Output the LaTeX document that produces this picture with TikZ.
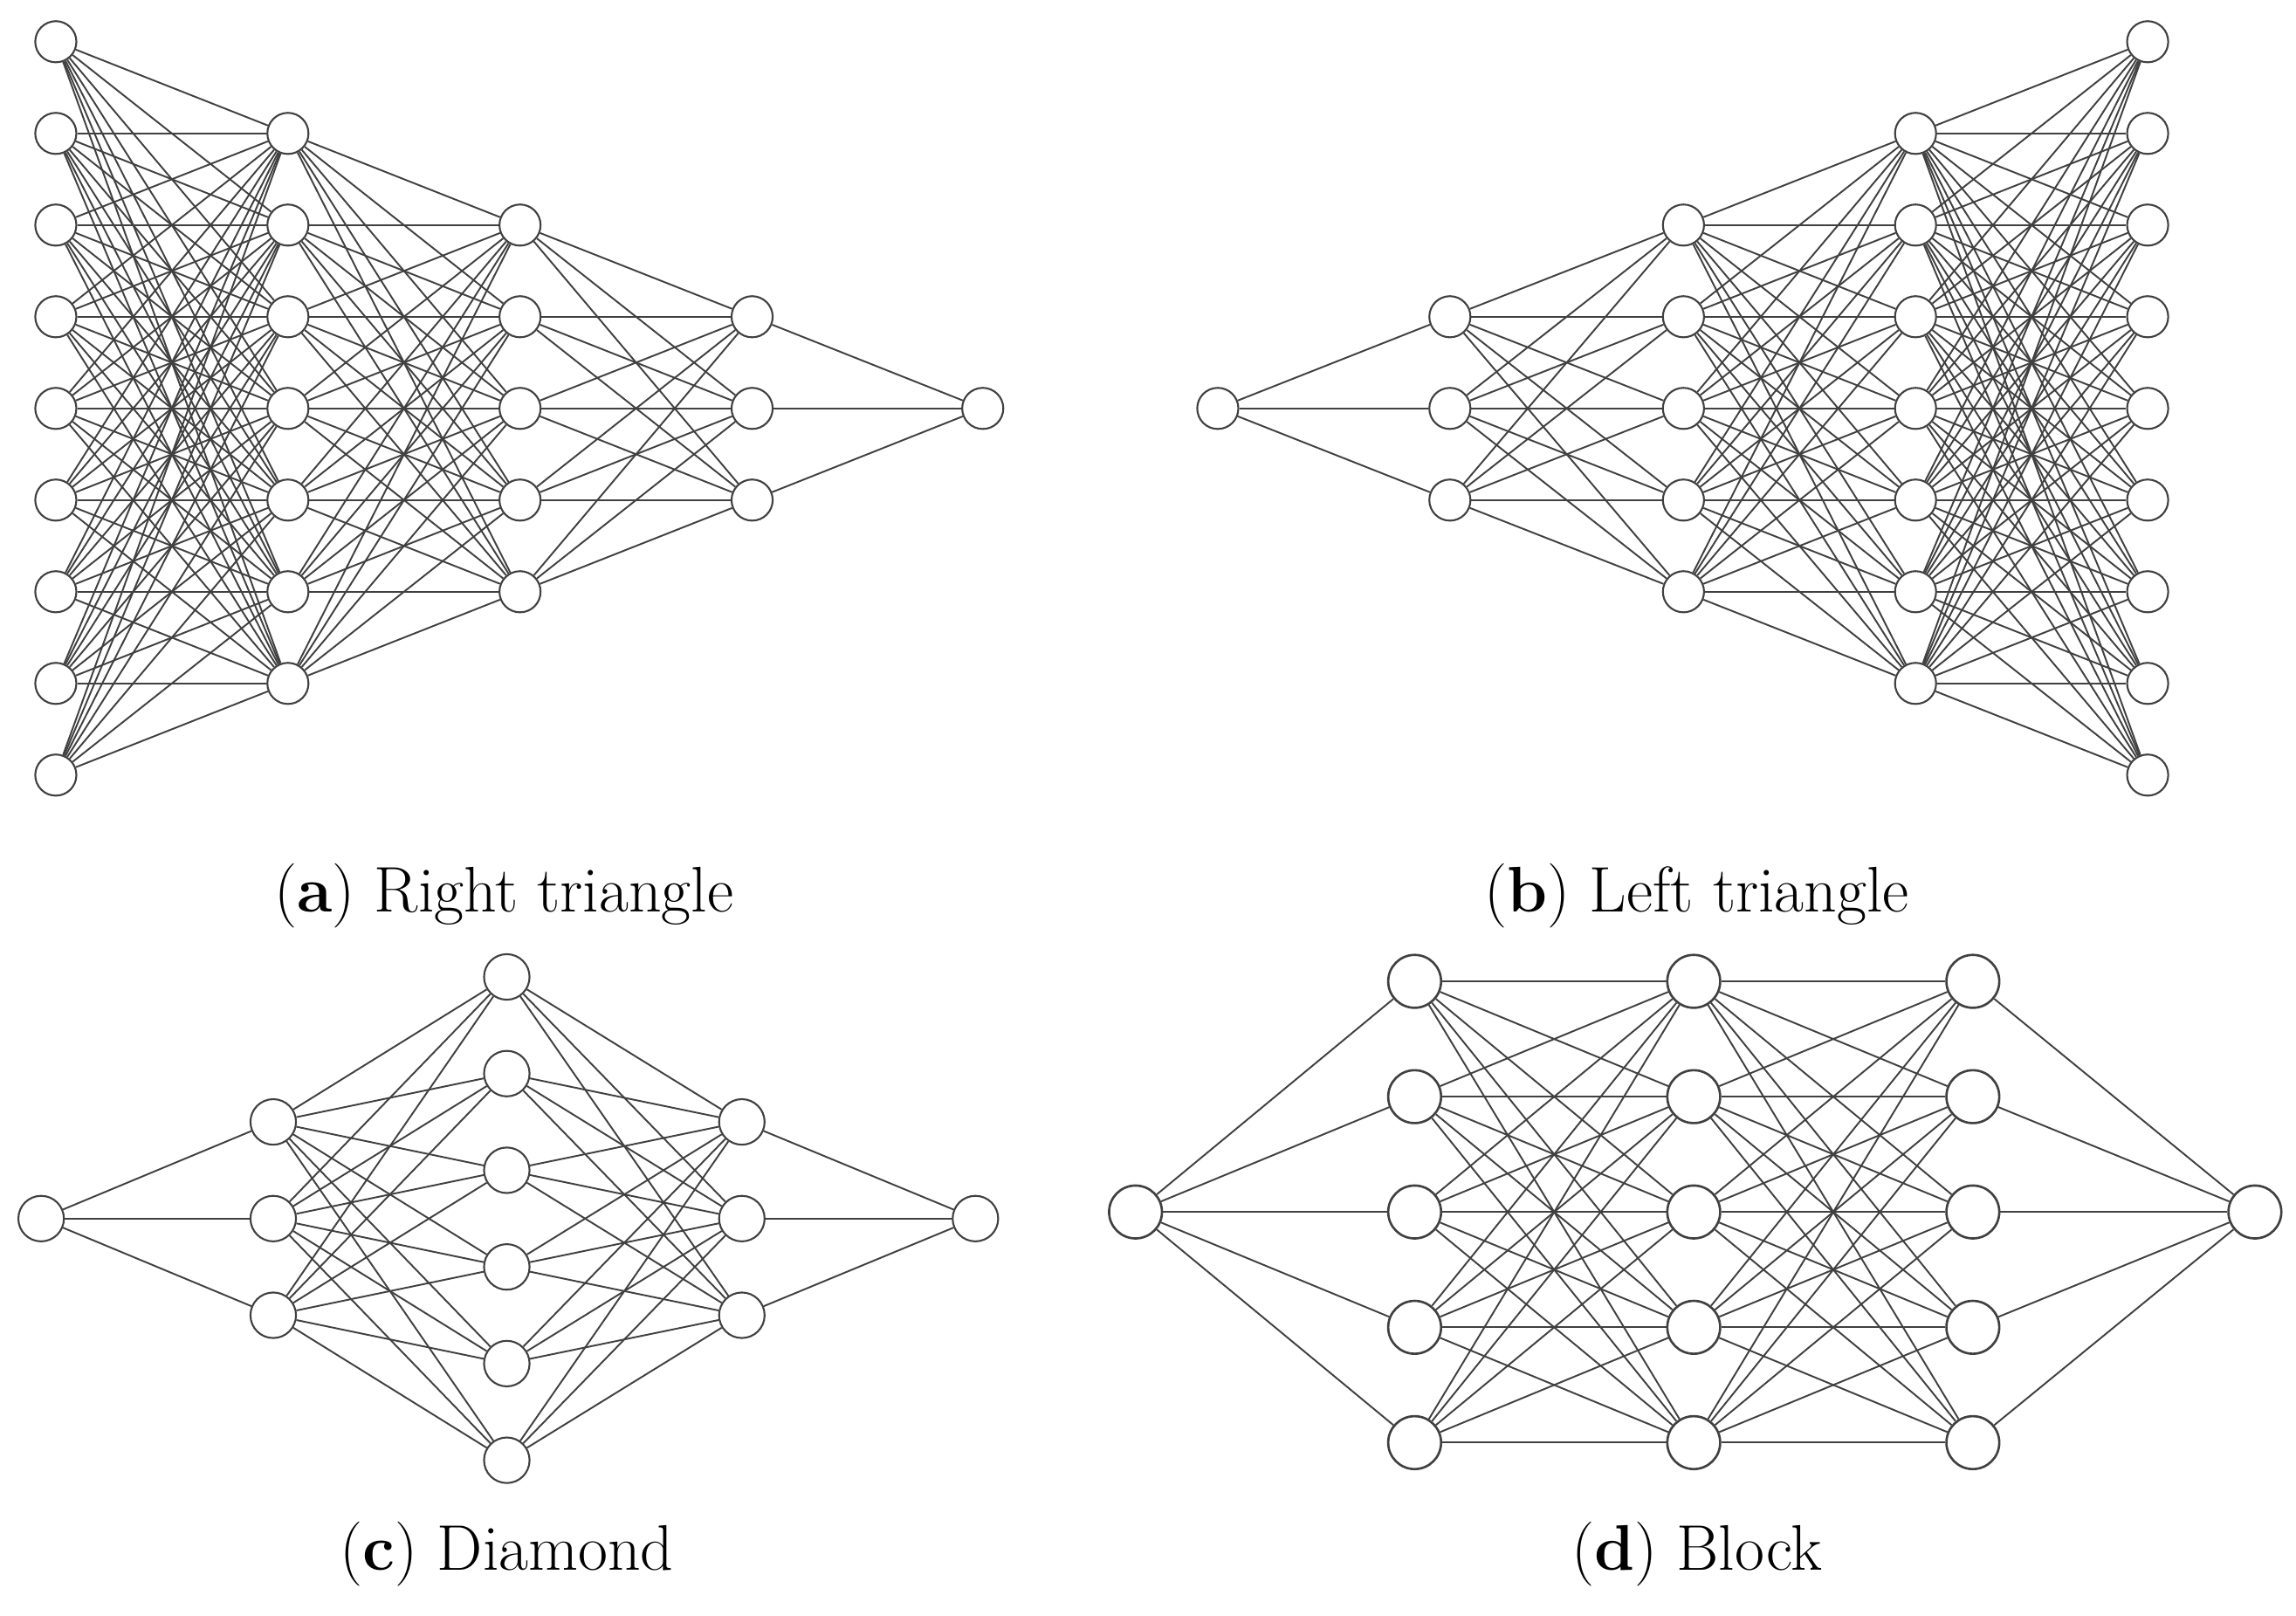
\documentclass[tikz,border=0pt]{standalone}
\begin{document}
\newcommand\mynet[6]{%
 \foreach \x [count=\l] in {#2}{%
   \pgfmathtruncatemacro\n{{#3}[\l-1]}%
   \foreach \k in {1,...,\n}{\node[neu,#6] (#1-\l-\k) at (\x,{#5+(\k-(\n+1)/2)*#4}) {};}%
 }%
 \foreach \x [count=\l] in {#2}{%
   \ifnum\l>1
   \pgfmathtruncatemacro\n{{#3}[\l-1]}%
   \pgfmathtruncatemacro\m{{#3}[\l-2]}%
   \pgfmathtruncatemacro\p{\l-1}%
   \foreach \i in {1,...,\m}{\foreach \j in {1,...,\n}{\draw[edge] (#1-\p-\i) -- (#1-\l-\j);}}%
   \fi
 }%
}
\begin{tikzpicture}[x=0.01683cm,y=-0.01683cm,
  neu/.style={circle,draw=black!75,fill=white,line width=0.6pt,inner sep=0pt,minimum size=28*0.01683cm},
  edge/.style={draw=black!75,line width=0.55pt},
  lab/.style={font=\fontsize{21}{25}\selectfont}]
\useasboundingbox (0,0) rectangle (1563,1100);
\mynet{a}{38,196,354,512,669}{9,7,5,3,1}{62.4}{278}{}
\mynet{b}{829,987,1146,1304,1462}{1,3,5,7,9}{62.4}{278}{}
\mynet{c}{28,186,345,505,664}{1,3,6,3,1}{65.8}{829.5}{minimum size=31*0.01683cm}
\mynet{d}{773,963,1153,1343,1535}{1,5,5,5,1}{78.5}{825}{minimum size=36*0.01683cm,line width=0.75pt}
\node[lab] (la) at (343,610) {(\textbf{a}) Right triangle};
\node[lab] (lb) at (1155,610) {(\textbf{b}) Left triangle};
\node[lab] (lc) at (345,1058) {(\textbf{c}) Diamond};
\node[lab] (ld) at (1155,1058) {(\textbf{d}) Block};
\end{tikzpicture}
\end{document}
